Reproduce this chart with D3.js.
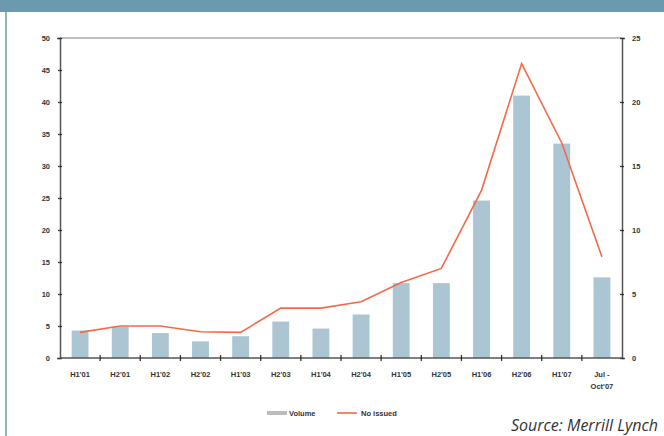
<!DOCTYPE html>
<html>
<head>
<meta charset="utf-8">
<script src="https://cdn.jsdelivr.net/npm/d3@7"></script>
<style>
  html, body { margin: 0; padding: 0; background: #fff; }
  #chart { width: 664px; height: 436px; }
</style>
</head>
<body>
<div id="chart"></div>
<script>
const categories = ["H1'01", "H2'01", "H1'02", "H2'02", "H1'03", "H2'03", "H1'04", "H2'04",
  "H1'05", "H2'05", "H1'06", "H2'06", "H1'07", "Jul -|Oct'07"];
const volume = [4.3, 4.9, 3.9, 2.6, 3.4, 5.7, 4.6, 6.8, 11.7, 11.7, 24.6, 41.0, 33.5, 12.6];
const noIssued = [2.0, 2.5, 2.5, 2.05, 2.0, 3.9, 3.9, 4.4, 5.9, 7.0, 13.1, 23.0, 16.8, 7.9];
const leftTicks = [0, 5, 10, 15, 20, 25, 30, 35, 40, 45, 50];
const rightTicks = [0, 5, 10, 15, 20, 25];

const W = 664, H = 436;
const margin = { top: 38, right: 42, bottom: 78, left: 60 };
const width = W - margin.left - margin.right;
const height = H - margin.top - margin.bottom;

const svg = d3.select('#chart').append('svg')
  .attr('width', W)
  .attr('height', H);

// header band + left rule
svg.append('rect').attr('x', 0).attr('y', 0).attr('width', W).attr('height', 12).attr('fill', '#6b9aae');
svg.append('line').attr('x1', 6).attr('x2', 6).attr('y1', 12).attr('y2', H)
  .attr('stroke', '#6b9aae').attr('stroke-width', 1.5);

const g = svg.append('g').attr('transform', `translate(${margin.left},${margin.top})`);

const x = d3.scaleBand().domain(categories).range([0, width]).paddingInner(0.58).paddingOuter(0.29);
const xb = d3.scaleBand().domain(categories).range([0, width]);
const yL = d3.scaleLinear().domain([0, 50]).range([height, 0]);
const yR = d3.scaleLinear().domain([0, 25]).range([height, 0]);

const axisColor = '#555';
const labelFont = 'Liberation Sans, Arial, sans-serif';

// top frame line
g.append('line').attr('x1', 0).attr('x2', width).attr('y1', 0).attr('y2', 0)
  .attr('stroke', '#aaa').attr('stroke-width', 1.5);

// bars
g.selectAll('rect.bar')
  .data(volume)
  .enter()
  .append('rect')
  .attr('class', 'bar')
  .attr('x', (d, i) => x(categories[i]))
  .attr('width', x.bandwidth())
  .attr('y', d => yL(d))
  .attr('height', d => height - yL(d))
  .attr('fill', '#abc5d3');

// line
g.append('path')
  .datum(noIssued)
  .attr('fill', 'none')
  .attr('stroke', '#f26a48')
  .attr('stroke-width', 1.6)
  .attr('d', d3.line()
    .x((d, i) => xb(categories[i]) + xb.bandwidth() / 2)
    .y(d => yR(d)));

// left axis
const left = g.append('g')
  .call(d3.axisLeft(yL).tickValues(leftTicks).tickSize(3).tickPadding(7));
// right axis
const right = g.append('g')
  .attr('transform', `translate(${width},0)`)
  .call(d3.axisRight(yR).tickValues(rightTicks).tickSize(3).tickPadding(7));

// bottom axis with ticks at category boundaries
const bottom = g.append('g').attr('transform', `translate(0,${height})`);
bottom.append('line').attr('x1', 0).attr('x2', width).attr('stroke', axisColor).attr('stroke-width', 1.5);
bottom.selectAll('line.bt')
  .data(categories.slice(1))
  .enter()
  .append('line')
  .attr('class', 'bt')
  .attr('x1', d => xb(d)).attr('x2', d => xb(d))
  .attr('y1', -3).attr('y2', 3)
  .attr('stroke', '#333').attr('stroke-width', 1.3);

bottom.selectAll('text')
  .data(categories)
  .enter()
  .append('text')
  .attr('x', d => xb(d) + xb.bandwidth() / 2)
  .attr('y', 19)
  .attr('text-anchor', 'middle')
  .style('font-family', labelFont)
  .style('font-size', '7.5px')
  .style('font-weight', 'bold')
  .style('fill', '#333')
  .each(function (d) {
    const parts = d.split('|');
    d3.select(this).selectAll('tspan')
      .data(parts)
      .enter()
      .append('tspan')
      .attr('x', d3.select(this).attr('x'))
      .attr('dy', (p, i) => i === 0 ? 0 : 12)
      .text(p => p);
  });

[left, right].forEach(ax => {
  ax.select('.domain').attr('stroke', axisColor).attr('stroke-width', 1.5);
  ax.selectAll('.tick line').attr('stroke', '#333').attr('stroke-width', 1.3)
    .attr('x1', -2).attr('x2', 2);
  ax.selectAll('.tick text')
    .style('font-family', labelFont)
    .style('font-size', '7.5px')
    .style('font-weight', 'bold')
    .style('fill', '#333');
});

// legend
const legend = svg.append('g').attr('transform', 'translate(267,413)');
legend.append('line').attr('x1', 0).attr('x2', 20).attr('y1', 0).attr('y2', 0)
  .attr('stroke', '#bcbcbc').attr('stroke-width', 4);
legend.append('text').attr('x', 22).attr('y', 3).text('Volume')
  .style('font-family', labelFont).style('font-size', '7.5px').style('font-weight', 'bold').style('fill', '#333');
legend.append('line').attr('x1', 70).attr('x2', 90).attr('y1', 0).attr('y2', 0)
  .attr('stroke', '#f26a48').attr('stroke-width', 1.6);
legend.append('text').attr('x', 94).attr('y', 3).text('No issued')
  .style('font-family', labelFont).style('font-size', '7.5px').style('font-weight', 'bold').style('fill', '#333');

// source
svg.append('text')
  .attr('x', 658).attr('y', 431)
  .attr('text-anchor', 'end')
  .style('font-family', '"Open Sans", sans-serif')
  .style('font-style', 'italic')
  .style('font-size', '16px')
  .style('fill', '#333')
  .text('Source: Merrill Lynch');
</script>
</body>
</html>
